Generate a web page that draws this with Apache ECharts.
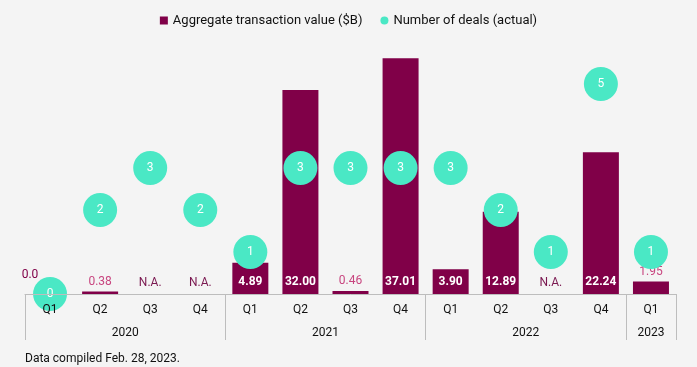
<!DOCTYPE html>
<html><head><meta charset="utf-8">
<script src="https://cdn.jsdelivr.net/npm/echarts@6/dist/echarts.min.js"></script>
<style>html,body{margin:0;padding:0;background:#f4f4f4;}#c{width:697px;height:367px;}</style>
</head><body><div id="c"></div>
<script>
var quarters = ['Q1','Q2','Q3','Q4','Q1','Q2','Q3','Q4','Q1','Q2','Q3','Q4','Q1'];
var years = ['2020','2021','2022','2023'];
var yearSpans = [4,4,4,1];
var aggValues = [0, 0.38, null, null, 4.89, 32.00, 0.46, 37.01, 3.90, 12.89, null, 22.24, 1.95];
var aggLabels = ['0.0','0.38','N.A.','N.A.','4.89','32.00','0.46','37.01','3.90','12.89','N.A.','22.24','1.95'];
var deals = [0, 2, 3, 2, 1, 3, 3, 3, 3, 2, 1, 5, 1];

var FONT = 'Roboto';
var BAR = '#800048';
var TEAL = '#4ae8c5';

// year label centres on a 0..13 value scale
var yearCenters = {};
var acc = 0;
yearSpans.forEach(function(s, i){ yearCenters[(acc + s/2).toFixed(1)] = years[i]; acc += s; });

var barData = aggValues.map(function(v, i){
  var lbl = aggLabels[i];
  var item = {value: v === null ? 0 : v};
  if (v === null) {
    item.label = {show:true, position:'top', distance:5, color:'#7a1850', fontSize:12, formatter: lbl};
  } else if (v === 0) {
    item.label = {show:true, position:'top', distance:5, color:BAR, fontSize:12, formatter: lbl, offset:[-20,-8]};
  } else if (v < 3) {
    item.label = {show:true, position:'top', distance:4, color:'#c8457f', fontSize:12, formatter: lbl};
  } else {
    item.label = {show:true, position:'insideBottom', distance:6, color:'#ffffff', fontSize:12, fontWeight:'bold', formatter: lbl};
  }
  return item;
});

var chart = echarts.init(document.getElementById('c'), null, {renderer:'canvas'});
chart.setOption({
  backgroundColor:'#f4f4f4',
  textStyle:{fontFamily:FONT},
  animation:false,
  legend:{
    top:9, left:'center', itemGap:18, itemWidth:8, itemHeight:8,
    textStyle:{fontFamily:FONT, fontSize:13, color:'#111'},
    data:[{name:'Aggregate transaction value ($B)', icon:'rect'},{name:'Number of deals (actual)', icon:'circle'}]
  },
  grid:{left:25, right:21, top:34, bottom:73, containLabel:false},
  xAxis:[{
    type:'category', data:quarters, position:'bottom', z:8,
    axisLine:{show:true, lineStyle:{color:'#bdbdbd', width:1}},
    axisTick:{show:true, length:46, interval:function(i){return i % 4 === 0;}, lineStyle:{color:'#bdbdbd', width:1}},
    axisLabel:{margin:10, fontSize:12, color:'#111', fontFamily:FONT}
  },{
    type:'value', min:0, max:13, interval:0.5, position:'bottom',
    axisLine:{show:false}, axisTick:{show:false}, splitLine:{show:false},
    axisLabel:{margin:33, fontSize:12, color:'#111', fontFamily:FONT,
      formatter:function(v){ var k = (+v).toFixed(1); return yearCenters[k] || ''; }}
  }],
  yAxis:[{
    type:'value', min:0, max:40.8, show:false, splitLine:{show:false}
  },{
    type:'value', min:0, max:6.19, show:false, splitLine:{show:false}
  }],
  series:[{
    name:'Aggregate transaction value ($B)', type:'bar', xAxisIndex:0, yAxisIndex:0,
    barWidth:36, itemStyle:{color:BAR},
    data:barData, z:2
  },{
    name:'Number of deals (actual)', type:'scatter', xAxisIndex:0, yAxisIndex:1,
    symbol:'circle', symbolSize:34, clip:false,
    itemStyle:{color:TEAL, opacity:1},
    label:{show:true, position:'inside', color:'#ffffff', fontSize:12, fontFamily:FONT},
    data:deals, z:5
  }],
  graphic:[{
    type:'text', left:25, top:353,
    style:{text:'Data compiled Feb. 28, 2023.', fontSize:12, fontFamily:FONT, fill:'#111'}
  }]
});
</script>
</body></html>
